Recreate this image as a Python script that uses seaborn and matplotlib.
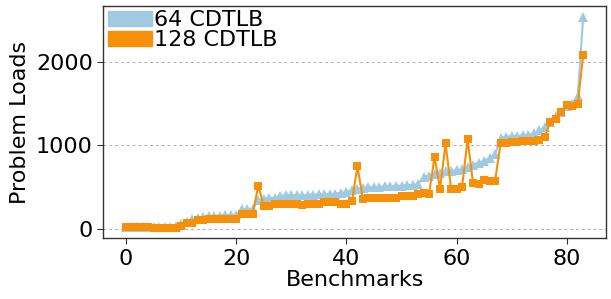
import numpy as np
import pandas as pd
import matplotlib
matplotlib.use("Agg")
import matplotlib.pyplot as plt
import matplotlib.patches as mpatches
import seaborn as sns

series_names = ["64 CDTLB", "128 CDTLB"]

loads_64 = [
    20, 20, 20, 20, 20, 20, 20, 20, 20, 30,
    50, 80, 110, 130, 140, 150, 155, 155, 160, 160,
    165, 230, 235, 240, 340, 360, 365, 370, 395, 400,
    400, 400, 400, 405, 405, 410, 410, 415, 420, 430,
    440, 465, 475, 490, 495, 500, 500, 505, 510, 510,
    515, 520, 525, 530, 620, 635, 650, 670, 685, 690,
    700, 710, 740, 765, 790, 810, 850, 890, 1090, 1100,
    1110, 1110, 1115, 1120, 1140, 1175, 1220, 1280, 1350, 1400,
    1470, 1490, 1590, 2540,
]

loads_128 = [
    20, 20, 20, 20, 20, 10, 10, 10, 10, 10,
    30, 70, 70, 100, 100, 120, 120, 120, 120, 120,
    120, 175, 175, 180, 515, 270, 270, 290, 290, 290,
    295, 290, 285, 290, 290, 295, 315, 315, 320, 290,
    295, 325, 745, 355, 365, 365, 365, 370, 365, 370,
    385, 385, 390, 420, 425, 415, 857, 480, 1020, 480,
    475, 500, 1070, 540, 535, 585, 570, 575, 1025, 1030,
    1035, 1040, 1045, 1050, 1055, 1060, 1100, 1273, 1315, 1400,
    1479, 1467, 1495, 2082,
]

benchmarks = list(range(len(loads_64)))

color_64 = "#9fcae1"
color_128 = "#f79009"

sns.set_style("ticks", rc={"text.color": "black", "axes.labelcolor": "black",
                           "xtick.color": "black", "ytick.color": "black"})
plt.rcParams["font.family"] = ["DejaVu Sans"]

fig = plt.figure(figsize=(6.11, 2.99), dpi=100)
ax = fig.add_axes([0.169, 0.203, 0.823, 0.777])

sns.lineplot(x=benchmarks, y=loads_64, ax=ax, color=color_64, marker="^",
             markersize=6.5, markeredgewidth=0, linewidth=1.5)
sns.lineplot(x=benchmarks, y=loads_128, ax=ax, color=color_128, marker="s",
             markersize=6, markeredgewidth=0, linewidth=1.5)

ax.set_yticks([0, 1000, 2000])
ax.set_xticks([0, 20, 40, 60, 80])
ax.tick_params(axis="both", labelsize=16, length=4, color="#333333",
               labelcolor="black")
ax.yaxis.grid(True, linestyle=(0, (3, 3)), color="#b0b0b0", linewidth=0.7)
ax.set_axisbelow(True)
for s in ax.spines.values():
    s.set_color("#333333")
    s.set_linewidth(1.0)

ax.set_xlabel("Benchmarks", fontsize=16, labelpad=1, color="black")
ax.set_ylabel("Problem Loads", fontsize=16, labelpad=4, color="black")

handles = [mpatches.Patch(color=color_64, label=series_names[0]),
           mpatches.Patch(color=color_128, label=series_names[1])]
leg = ax.legend(handles=handles, loc="upper left", fontsize=16, frameon=False,
                borderaxespad=0.1, borderpad=0.1, labelspacing=0.0,
                handletextpad=0.1, handlelength=2.0)
for t in leg.get_texts():
    t.set_color("black")

fig.savefig("out.png", dpi=100)
